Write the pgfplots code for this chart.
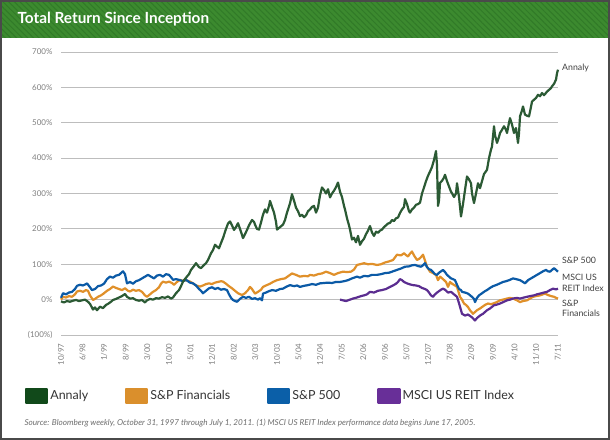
\documentclass[border=0pt]{standalone}
\usepackage{pgfplots}
\pgfplotsset{compat=1.18}
\usepackage{fontspec}
\setmainfont{Lato}
\usetikzlibrary{patterns.meta}
\definecolor{headgreen}{HTML}{3C8A2F}
\definecolor{stripegreen}{HTML}{317A28}
\definecolor{bordergray}{HTML}{4A4A4A}
\definecolor{gridgray}{HTML}{BDBDBD}
\definecolor{tickgray}{HTML}{808080}
\definecolor{annaly}{HTML}{2B5A34}
\definecolor{annalyL}{HTML}{11491A}
\definecolor{fin}{HTML}{E0902A}
\definecolor{finL}{HTML}{DA8F2C}
\definecolor{spx}{HTML}{0B5AA6}
\definecolor{spxL}{HTML}{0B5FA8}
\definecolor{reit}{HTML}{5B2D90}
\definecolor{reitL}{HTML}{682F98}
\begin{document}
\begin{tikzpicture}
\useasboundingbox (0,0) rectangle (610bp,440bp);
\fill[white] (0,0) rectangle (610bp,440bp);
\fill[headgreen] (0,402bp) rectangle (610bp,440bp);
\fill[pattern={Lines[angle=-45,distance=4bp,line width=1bp]},pattern color=stripegreen] (0,402bp) rectangle (610bp,440bp);
\node[anchor=west,text=white,font=\fontsize{15.4}{17}\selectfont\bfseries] at (14bp,421bp) {Total Return Since Inception};
\node[anchor=west,text=tickgray!85!black,font=\fontsize{8.2}{9}\selectfont\itshape] at (21bp,17bp) {Source: Bloomberg weekly, October 31, 1997 through July 1, 2011. (1) MSCI US REIT Index performance data begins June 17, 2005.};
\begin{axis}[
  at={(61bp,105bp)}, anchor=south west, scale only axis,
  width=497bp, height=283bp,
  xmin=61, xmax=558, ymin=-100, ymax=700,
  axis line style={draw=none},
  major tick length=0pt,
  ytick={-100,0,100,200,300,400,500,600,700},
  yticklabels={(100\%),0\%,100\%,200\%,300\%,400\%,500\%,600\%,700\%},
  ymajorgrids, grid style={gridgray, line width=0.9bp},
  xtick={61,82.6,104.2,125.8,147.4,169,190.6,212.2,233.8,255.4,277,298.6,320.2,341.8,363.4,385,406.6,428.2,449.8,471.4,493,514.6,536.2,557.8},
  xticklabels={10/97,6/98,1/99,8/99,3/00,10/00,5/01,12/01,8/02,3/03,10/03,5/04,12/04,7/05,2/06,9/06,5/07,12/07,7/08,2/09,9/09,4/10,11/10,7/11},
  tick label style={font=\fontsize{8}{9}\selectfont, text=tickgray},
  xticklabel style={rotate=90, anchor=east, xshift=-5bp},
  yticklabel style={anchor=east, xshift=-5bp},
  clip=false,
  legend columns=4,
  legend style={draw=none, fill=none, at={(-0.0785,-0.2155)}, anchor=west,
    font=\fontsize{12.5}{14}\selectfont, text=black!80,
    /tikz/every even column/.append style={column sep=35bp}},
  legend cell align=left,
  every axis plot/.append style={line width=2.2bp, line join=round},
]
\addlegendimage{legend image code/.code={\fill[annalyL] (0bp,-7bp) rectangle (21bp,7bp);}}
\addlegendimage{legend image code/.code={\fill[finL] (0bp,-7bp) rectangle (21bp,7bp);}}
\addlegendimage{legend image code/.code={\fill[spxL] (0bp,-7bp) rectangle (21bp,7bp);}}
\addlegendimage{legend image code/.code={\fill[reitL] (0bp,-7bp) rectangle (21bp,7bp);}}
\legend{Annaly, S\&P Financials, S\&P 500, MSCI US REIT Index}
% S&P Financials
\addplot[fin, forget plot] coordinates {
(61,0)(63,8)(66,6)(69,10)(72,8)(75,15)(77,23)(80,25)(83,22)(86,27)(88,25)(90,12)(93,-1)(95,2)(98,8)(101,12)(104,18)(107,25)(110,30)(113,37)(116,33)(119,30)(122,27)(125,32)(128,25)(130,23)(133,28)(136,25)(139,27)(142,22)(145,12)(147,8)(150,15)(153,22)(156,27)(159,35)(161,45)(163,51)(166,48)(169,51)(172,47)(174,42)(177,50)(180,56)(183,53)(186,55)(190,51)(193,46)(196,40)(200,37)(203,40)(206,44)(209,46)(212,44)(215,48)(218,50)(221,52)(223,51)(226,45)(229,38)(232,32)(235,25)(238,18)(242,13)(245,18)(248,27)(250,36)(252,30)(255,17)(258,22)(261,28)(263,36)(266,40)(270,45)(273,50)(277,55)(281,58)(285,60)(289,68)(292,74)(296,70)(300,65)(304,67)(308,66)(310,70)(314,68)(318,72)(322,74)(326,79)(330,75)(334,70)(338,75)(343,79)(347,78)(351,79)(354,85)(357,98)(360,100)(364,103)(368,100)(372,101)(377,98)(381,100)(385,105)(389,108)(393,112)(397,127)(401,125)(404,131)(406,126)(408,122)(410,130)(412,136)(414,125)(417,112)(419,115)(421,120)(423,127)(425,110)(427,93)(430,79)(433,75)(436,70)(438,55)(440,65)(443,58)(446,50)(448,36)(450,50)(452,45)(455,40)(457,36)(460,8)(462,0)(464,-11)(466,-15)(468,-21)(470,-30)(473,-40)(475,-35)(477,-30)(480,-25)(482,-21)(485,-15)(488,-11)(491,-13)(493,-11)(496,-8)(500,-2)(503,0)(507,3)(510,5)(513,3)(517,-2)(520,-7)(523,-4)(527,-2)(530,3)(533,8)(536,10)(540,12)(543,15)(545,17)(548,13)(551,10)(554,8)(556,5)(558,3)
};
% S&P 500
\addplot[spx, forget plot] coordinates {
(61,5)(63,18)(66,15)(69,20)(72,22)(75,30)(77,39)(80,42)(83,40)(86,44)(87,46)(90,35)(92,27)(95,30)(98,38)(101,40)(104,45)(107,58)(110,65)(113,62)(116,68)(119,70)(121,75)(123,80)(125,72)(127,46)(130,50)(133,45)(136,52)(139,55)(142,60)(145,65)(148,70)(151,65)(154,60)(157,68)(160,70)(163,65)(166,72)(169,70)(172,60)(173,56)(176,58)(180,55)(183,52)(186,56)(190,48)(193,46)(196,40)(199,30)(201,25)(203,18)(206,25)(209,32)(212,35)(215,30)(218,33)(221,28)(224,30)(227,27)(229,15)(231,5)(233,-1)(235,-4)(237,-6)(240,2)(243,8)(246,5)(249,8)(252,2)(255,4)(258,0)(260,4)(262,-2)(263,17)(266,20)(269,24)(272,27)(276,25)(280,30)(283,31)(286,36)(290,41)(294,38)(297,40)(300,36)(304,39)(308,41)(312,44)(316,42)(320,46)(324,47)(328,48)(332,47)(336,50)(340,50)(344,52)(348,55)(352,60)(357,65)(360,62)(364,67)(368,66)(372,70)(377,70)(381,72)(385,75)(389,76)(393,80)(397,84)(401,88)(405,93)(409,94)(412,97)(415,98)(418,95)(421,93)(423,97)(425,103)(427,92)(429,86)(431,84)(433,78)(435,72)(437,70)(439,76)(441,80)(443,84)(445,78)(447,70)(449,65)(451,60)(453,58)(455,55)(457,42)(459,30)(461,27)(462,22)(465,20)(468,17)(471,10)(472,8)(474,2)(475,-7)(477,5)(479,12)(482,18)(485,24)(487,27)(490,33)(493,38)(496,41)(500,46)(503,50)(506,52)(510,56)(513,60)(516,58)(520,55)(523,50)(525,46)(528,55)(531,60)(534,65)(537,70)(540,75)(543,80)(546,84)(548,80)(550,79)(552,84)(554,89)(556,84)(558,79)
};
% MSCI US REIT
\addplot[reit, forget plot] coordinates {
(340,0)(343,-2)(346,-4)(349,-1)(353,3)(357,6)(361,10)(364,12)(367,15)(370,22)(374,20)(378,25)(382,27)(386,30)(390,36)(393,40)(396,45)(398,50)(400,58)(402,55)(404,50)(407,46)(410,43)(413,41)(416,40)(419,38)(422,33)(425,30)(427,27)(429,20)(431,12)(433,8)(435,15)(438,22)(441,28)(443,31)(445,28)(448,20)(451,22)(454,15)(457,8)(459,-10)(461,-30)(462,-40)(465,-45)(468,-42)(471,-48)(472,-50)(475,-59)(477,-52)(480,-45)(483,-40)(487,-30)(490,-25)(494,-16)(497,-14)(500,-11)(504,-6)(507,-2)(510,0)(513,3)(517,5)(520,3)(524,6)(527,8)(530,10)(534,12)(537,15)(540,17)(544,20)(547,22)(550,27)(553,31)(556,29)(558,31)
};
% Annaly
\addplot[annaly, forget plot] coordinates {
(61,-5)(64,-8)(67,-4)(70,-6)(73,-3)(76,-1)(79,-4)(82,-2)(85,0)(88,-6)(90,-12)(93,-28)(95,-22)(97,-30)(100,-20)(103,-24)(106,-15)(108,-12)(111,-6)(113,-1)(116,2)(119,6)(122,10)(125,16)(127,8)(130,3)(133,4)(136,-1)(139,-3)(142,-1)(145,-8)(147,-2)(150,2)(153,0)(156,4)(159,3)(162,7)(165,5)(168,9)(171,3)(173,6)(176,18)(179,27)(181,38)(183,51)(186,62)(189,72)(191,84)(194,95)(196,103)(199,92)(201,89)(204,98)(206,103)(208,112)(211,131)(213,140)(215,155)(217,150)(219,145)(221,160)(223,174)(226,200)(228,215)(230,221)(232,210)(234,197)(236,205)(238,216)(240,200)(243,174)(245,185)(247,197)(249,210)(252,225)(254,220)(255,212)(257,200)(259,198)(261,218)(263,240)(265,255)(267,246)(269,265)(270,279)(272,262)(274,246)(276,220)(277,198)(280,205)(283,212)(285,225)(287,246)(290,272)(292,298)(294,280)(296,260)(298,250)(300,236)(302,240)(304,233)(306,238)(308,250)(310,255)(312,262)(314,265)(316,246)(318,260)(320,295)(322,317)(324,310)(326,300)(328,312)(330,289)(332,300)(334,308)(336,318)(338,331)(340,305)(342,290)(344,265)(345,255)(347,230)(349,210)(350,198)(352,170)(354,175)(356,162)(358,180)(360,155)(362,165)(364,172)(366,185)(368,195)(370,208)(372,190)(374,180)(376,192)(378,189)(380,195)(382,198)(384,205)(386,210)(388,215)(390,217)(392,225)(394,222)(396,230)(398,232)(400,245)(402,255)(404,262)(405,284)(407,270)(409,250)(410,246)(412,255)(414,260)(416,268)(418,270)(420,274)(422,300)(424,317)(426,335)(428,350)(430,362)(432,375)(434,395)(436,420)(437,380)(438,265)(439,280)(440,330)(442,336)(444,345)(445,353)(447,335)(449,320)(451,305)(452,301)(454,290)(456,300)(457,329)(459,290)(461,235)(463,270)(465,310)(467,348)(469,340)(471,329)(472,300)(474,273)(476,300)(478,329)(480,315)(482,335)(484,355)(486,363)(487,367)(489,400)(491,424)(492,433)(494,490)(495,465)(497,443)(499,460)(500,471)(502,480)(504,490)(506,480)(507,471)(509,500)(510,513)(512,495)(514,471)(516,485)(518,443)(519,470)(520,518)(522,535)(523,546)(525,523)(527,520)(529,518)(531,545)(532,560)(534,565)(536,570)(538,579)(540,575)(542,584)(544,578)(545,581)(547,588)(549,593)(551,598)(552,603)(554,610)(556,622)(557,640)(558,650)
};
\begin{scope}[every node/.style={anchor=west, font=\fontsize{8.8}{10}\selectfont, text=black!75, inner sep=0pt}]
\node at (axis cs:562,656) {Annaly};
\node at (axis cs:562,112) {S\&P 500};
\node at (axis cs:562,62) {MSCI US};
\node at (axis cs:562,31) {REIT Index};
\node at (axis cs:562,-10) {S\&P};
\node at (axis cs:562,-40) {Financials};
\end{scope}
\end{axis}
\draw[bordergray, line width=2.4bp] (1.2bp,1.2bp) rectangle (608.8bp,438.8bp);
\end{tikzpicture}
\end{document}
